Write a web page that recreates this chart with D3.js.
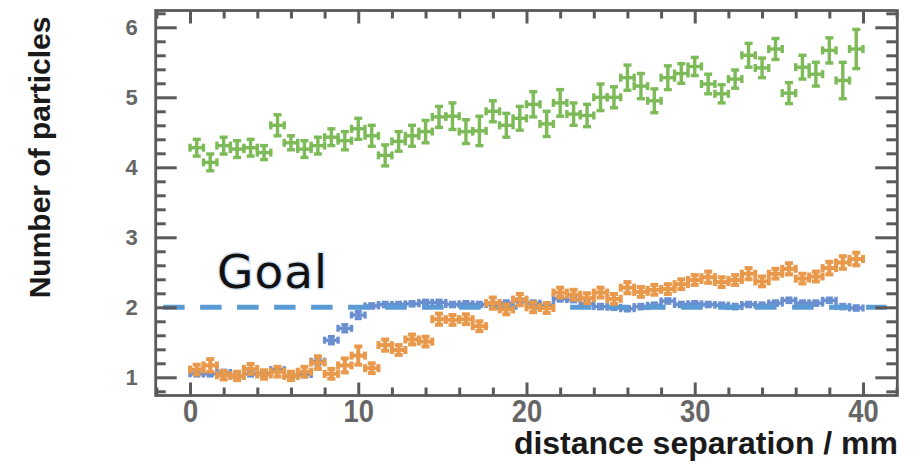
<!DOCTYPE html>
<html>
<head>
<meta charset="utf-8">
<script src="https://cdn.jsdelivr.net/npm/d3@7"></script>
<style>
  html, body { margin: 0; padding: 0; background: #fff; }
  svg { display: block; }
</style>
</head>
<body>
<svg id="chart" width="923" height="468"></svg>
<script>
// ---- data ----
const binCenters = [0.4, 1.2, 2.0, 2.8, 3.6, 4.4, 5.2, 6.0, 6.8, 7.6, 8.4, 9.2, 10.0, 10.8, 11.6, 12.4, 13.2, 14.0, 14.8, 15.6,
  16.4, 17.2, 18.0, 18.8, 19.6, 20.4, 21.2, 22.0, 22.8, 23.6, 24.4, 25.2, 26.0, 26.8, 27.6, 28.4, 29.2, 30.0, 30.8, 31.6,
  32.4, 33.2, 34.0, 34.8, 35.6, 36.4, 37.2, 38.0, 38.8, 39.6];
const binHalfWidth = 0.4;

const greenValues = [4.28, 4.07, 4.31, 4.26, 4.28, 4.21, 4.60, 4.35, 4.26, 4.31, 4.43, 4.38, 4.55, 4.45, 4.17, 4.37, 4.45, 4.51, 4.72, 4.73,
  4.51, 4.52, 4.80, 4.60, 4.70, 4.90, 4.62, 4.92, 4.76, 4.74, 5.00, 5.00, 5.28, 5.16, 4.95, 5.28, 5.34, 5.44, 5.19, 5.05,
  5.26, 5.60, 5.42, 5.69, 5.06, 5.43, 5.33, 5.67, 5.24, 5.69];
const greenErrors = [0.12, 0.12, 0.12, 0.12, 0.12, 0.10, 0.15, 0.10, 0.12, 0.12, 0.12, 0.13, 0.15, 0.15, 0.15, 0.14, 0.15, 0.16, 0.15, 0.19,
  0.17, 0.21, 0.15, 0.17, 0.17, 0.18, 0.18, 0.19, 0.16, 0.16, 0.19, 0.15, 0.18, 0.18, 0.17, 0.17, 0.14, 0.13, 0.14, 0.13,
  0.13, 0.17, 0.14, 0.15, 0.15, 0.17, 0.17, 0.18, 0.26, 0.28];

const orangeValues = [1.11, 1.17, 1.03, 1.02, 1.12, 1.04, 1.08, 1.02, 1.08, 1.21, 1.05, 1.17, 1.31, 1.13, 1.46, 1.39, 1.54, 1.51, 1.83, 1.82,
  1.83, 1.73, 2.06, 1.97, 2.11, 2.00, 1.99, 2.21, 2.18, 2.13, 2.21, 2.12, 2.28, 2.22, 2.25, 2.26, 2.33, 2.39, 2.43, 2.36,
  2.39, 2.48, 2.37, 2.48, 2.55, 2.41, 2.44, 2.56, 2.64, 2.69];
const orangeErrors = [0.07, 0.09, 0.06, 0.06, 0.07, 0.06, 0.07, 0.06, 0.07, 0.09, 0.07, 0.10, 0.13, 0.07, 0.08, 0.07, 0.07, 0.07, 0.08, 0.07,
  0.07, 0.07, 0.08, 0.07, 0.08, 0.07, 0.07, 0.07, 0.07, 0.07, 0.07, 0.07, 0.08, 0.07, 0.07, 0.07, 0.07, 0.07, 0.08, 0.07,
  0.07, 0.08, 0.07, 0.07, 0.08, 0.07, 0.07, 0.09, 0.09, 0.09];

const blueValues = [1.05, 1.05, 1.07, 1.02, 1.05, 1.05, 1.11, 1.02, 1.04, 1.23, 1.53, 1.70, 1.89, 2.02, 2.04, 2.04, 2.05, 2.07, 2.07, 2.04,
  2.05, 2.04, 2.04, 2.06, 2.09, 2.06, 2.03, 2.12, 2.11, 2.05, 2.01, 2.00, 1.98, 2.01, 2.03, 2.09, 2.04, 2.05, 2.04, 2.03,
  2.01, 2.04, 2.03, 2.06, 2.10, 2.06, 2.06, 2.10, 2.01, 1.99];
const blueErrors = [0.03, 0.03, 0.03, 0.03, 0.03, 0.03, 0.03, 0.03, 0.03, 0.05, 0.05, 0.05, 0.05, 0.03, 0.03, 0.03, 0.03, 0.03, 0.03, 0.03,
  0.03, 0.03, 0.03, 0.03, 0.03, 0.03, 0.03, 0.03, 0.03, 0.03, 0.03, 0.03, 0.03, 0.03, 0.03, 0.03, 0.03, 0.03, 0.03, 0.03,
  0.03, 0.03, 0.03, 0.03, 0.03, 0.03, 0.03, 0.03, 0.03, 0.03];

const goalValue = 2;
const goalLabel = "Goal";
const goalSpan = [-1.6, 41.4];

const xMajorTicks = [0, 10, 20, 30, 40];
const xMinorTicks = [-2, 2, 4, 6, 8, 12, 14, 16, 18, 22, 24, 26, 28, 32, 34, 36, 38, 42];
const yMajorTicks = [1, 2, 3, 4, 5, 6];
const yMinorTicks = [0.8, 1.2, 1.4, 1.6, 1.8, 2.2, 2.4, 2.6, 2.8, 3.2, 3.4, 3.6, 3.8, 4.2, 4.4, 4.6, 4.8, 5.2, 5.4, 5.6, 5.8, 6.2];

const xTitle = "distance separation / mm";
const yTitle = "Number of particles";

// ---- layout ----
const svg = d3.select("#chart");
const x = d3.scaleLinear().domain([-2.04, 42.04]).range([155.7, 897.3]);
const y = d3.scaleLinear().domain([0.74, 6.24]).range([395.5, 10.5]);
const axisColor = "#5a5a5a";

const plot = svg.append("g");

function drawSeries(values, errors, color, width, cap) {
  const g = plot.append("g").attr("stroke", color).attr("stroke-width", width).attr("fill", "none")
    .attr("stroke-linecap", "butt");
  const pts = binCenters.map((c, i) => ({ c, v: values[i], e: errors[i] }));
  const pt = g.selectAll("g").data(pts).join("g");
  // horizontal bar
  pt.append("line")
    .attr("x1", d => x(d.c - binHalfWidth)).attr("x2", d => x(d.c + binHalfWidth))
    .attr("y1", d => y(d.v)).attr("y2", d => y(d.v));
  pt.append("line")
    .attr("x1", d => x(d.c - binHalfWidth)).attr("x2", d => x(d.c - binHalfWidth))
    .attr("y1", d => y(d.v) - cap / 2).attr("y2", d => y(d.v) + cap / 2);
  pt.append("line")
    .attr("x1", d => x(d.c + binHalfWidth)).attr("x2", d => x(d.c + binHalfWidth))
    .attr("y1", d => y(d.v) - cap / 2).attr("y2", d => y(d.v) + cap / 2);
  // vertical bar
  pt.append("line")
    .attr("x1", d => x(d.c)).attr("x2", d => x(d.c))
    .attr("y1", d => y(d.v + d.e)).attr("y2", d => y(d.v - d.e));
  pt.append("line")
    .attr("x1", d => x(d.c) - cap / 2).attr("x2", d => x(d.c) + cap / 2)
    .attr("y1", d => y(d.v + d.e)).attr("y2", d => y(d.v + d.e));
  pt.append("line")
    .attr("x1", d => x(d.c) - cap / 2).attr("x2", d => x(d.c) + cap / 2)
    .attr("y1", d => y(d.v - d.e)).attr("y2", d => y(d.v - d.e));
}

drawSeries(greenValues, greenErrors, "#7dba58", 3.4, 8);
drawSeries(blueValues, blueErrors, "#6a8fd0", 3.4, 7);

// goal line
plot.append("line")
  .attr("x1", x(goalSpan[0])).attr("x2", x(goalSpan[1]))
  .attr("y1", y(goalValue)).attr("y2", y(goalValue))
  .attr("stroke", "#5b9bd5").attr("stroke-width", 5)
  .attr("stroke-dasharray", "21.5,15.5");

drawSeries(orangeValues, orangeErrors, "#e9994b", 4, 8);

// goal label
svg.append("text")
  .attr("x", 217).attr("y", 288)
  .attr("font-family", "DejaVu Sans, sans-serif")
  .attr("font-size", 47)
  .attr("letter-spacing", 1)
  .attr("fill", "#111")
  .attr("stroke", "#d6e4f4").attr("stroke-width", 3)
  .attr("paint-order", "stroke")
  .text(goalLabel);

// axes
const fontFam = "Liberation Sans, Arial, sans-serif";
function styleAxis(g) {
  g.select(".domain").remove();
  g.selectAll(".tick line").attr("stroke", axisColor).attr("stroke-width", 3);
}

const bottomMajor = svg.append("g").attr("transform", `translate(0,${y.range()[0]})`)
  .call(d3.axisBottom(x).tickValues(xMajorTicks).tickSize(-13).tickPadding(4).tickFormat(d3.format("d")));
styleAxis(bottomMajor);
bottomMajor.selectAll("text").attr("font-family", fontFam).attr("font-weight", "bold")
  .attr("font-size", 31).attr("fill", "#666")
  .attr("transform", "scale(0.9,1)")
  .attr("x", function(d) { return 0; });
// re-center labels after horizontal compression
bottomMajor.selectAll(".tick").each(function() {
  d3.select(this).select("text").attr("transform", "scale(0.88,1)");
});
const bottomMinor = svg.append("g").attr("transform", `translate(0,${y.range()[0]})`)
  .call(d3.axisBottom(x).tickValues(xMinorTicks).tickSize(-8).tickFormat(""));
styleAxis(bottomMinor);

const topMajor = svg.append("g").attr("transform", `translate(0,${y.range()[1]})`)
  .call(d3.axisTop(x).tickValues(xMajorTicks).tickSize(-13).tickFormat(""));
styleAxis(topMajor);
const topMinor = svg.append("g").attr("transform", `translate(0,${y.range()[1]})`)
  .call(d3.axisTop(x).tickValues(xMinorTicks).tickSize(-8).tickFormat(""));
styleAxis(topMinor);

const leftMajor = svg.append("g").attr("transform", `translate(${x.range()[0]},0)`)
  .call(d3.axisLeft(y).tickValues(yMajorTicks).tickSize(-21).tickPadding(18).tickFormat(d3.format("d")));
styleAxis(leftMajor);
leftMajor.selectAll("text").attr("font-family", fontFam).attr("font-weight", "bold")
  .attr("font-size", 22).attr("fill", "#666");
const leftMinor = svg.append("g").attr("transform", `translate(${x.range()[0]},0)`)
  .call(d3.axisLeft(y).tickValues(yMinorTicks).tickSize(-10).tickFormat(""));
styleAxis(leftMinor);

const rightMajor = svg.append("g").attr("transform", `translate(${x.range()[1]},0)`)
  .call(d3.axisRight(y).tickValues(yMajorTicks).tickSize(-22).tickFormat(""));
styleAxis(rightMajor);
const rightMinor = svg.append("g").attr("transform", `translate(${x.range()[1]},0)`)
  .call(d3.axisRight(y).tickValues(yMinorTicks).tickSize(-11).tickFormat(""));
styleAxis(rightMinor);

// frame
svg.append("rect")
  .attr("x", x.range()[0]).attr("y", y.range()[1])
  .attr("width", x.range()[1] - x.range()[0]).attr("height", y.range()[0] - y.range()[1])
  .attr("fill", "none").attr("stroke", axisColor).attr("stroke-width", 2.8);

// titles
svg.append("text")
  .attr("transform", "translate(50,157.5) rotate(-90)")
  .attr("text-anchor", "middle")
  .attr("font-family", fontFam).attr("font-weight", "bold").attr("font-size", 30)
  .attr("fill", "#1a1a1a")
  .text(yTitle);

svg.append("text")
  .attr("x", 898).attr("y", 454)
  .attr("text-anchor", "end")
  .attr("font-family", fontFam).attr("font-weight", "bold").attr("font-size", 32)
  .attr("fill", "#1a1a1a")
  .text(xTitle);
</script>
</body>
</html>
